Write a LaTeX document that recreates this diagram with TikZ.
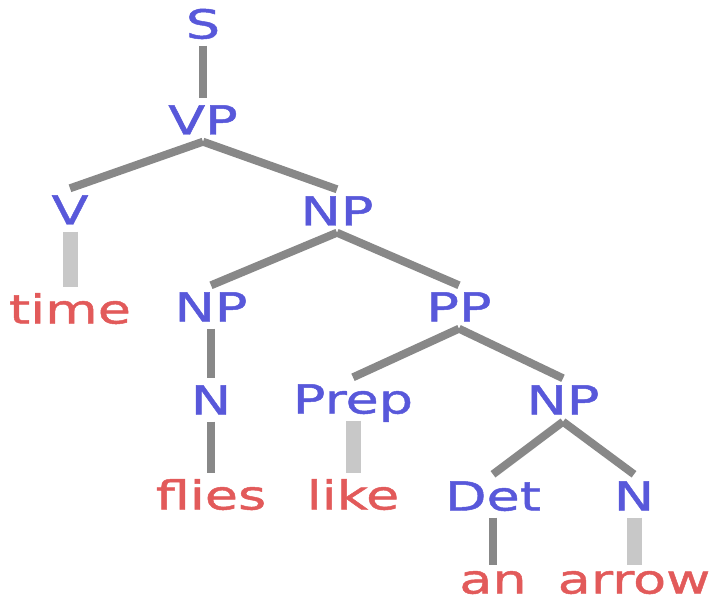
\documentclass[tikz,border=0pt]{standalone}
\usepackage{fontspec}
\newfontfamily\treefont[FakeStretch=1.35,FakeBold=1.2]{DejaVu Sans}
\definecolor{catblue}{RGB}{88,88,218}
\definecolor{wordred}{RGB}{226,90,90}
\definecolor{edgegray}{RGB}{136,136,136}
\definecolor{edgelight}{RGB}{200,200,200}
\tikzset{
  label/.style={font=\treefont\fontsize{40}{48}\selectfont, inner xsep=2pt, inner ysep=7pt,
    text height=29pt, text depth=0pt, anchor=center},
  cat/.style={label, text=catblue},
  word/.style={label, text=wordred},
  edge/.style={draw=edgegray, line width=8pt},
  leafedge/.style={draw=edgelight, line width=15pt}
}
\begin{document}
\begin{tikzpicture}[x=1pt,y=-1pt]
  \useasboundingbox (0,0) rectangle (712,604);
  % categories
  \node[cat] (S)    at (203,24)  {S};
  \node[cat] (VP)   at (203,120) {VP};
  \node[cat] (V)    at (70,210)  {V};
  \node[cat] (NP1)  at (337,211) {NP};
  \node[cat] (NP2)  at (211,307) {NP};
  \node[cat] (PP)   at (459,307) {PP};
  \node[cat] (N1)   at (211,400) {N};
  \node[cat] (Prep) at (353,399) {Prep};
  \node[cat] (NP3)  at (563,400) {NP};
  \node[cat] (Det)  at (493,496) {Det};
  \node[cat] (N2)   at (634,496) {N};
  % words
  \node[word] (w1) at (70,309)  {time};
  \node[word] (w2) at (211,495) {flies};
  \node[word] (w3) at (353,495) {like};
  \node[word, inner ysep=3pt] (w4) at (493,579) {an};
  \node[word, inner ysep=3pt] (w5) at (634,579) {arrow};
  % branches
  \draw[edge] (S.south) -- (VP.north);
  \draw[edge] (VP.south) -- (V.north);
  \draw[edge] (VP.south) -- (NP1.north);
  \draw[edge] (NP1.south) -- (NP2.north);
  \draw[edge] (NP1.south) -- (PP.north);
  \draw[edge] (NP2.south) -- (N1.north);
  \draw[edge] (PP.south) -- (Prep.north);
  \draw[edge] (PP.south) -- (NP3.north);
  \draw[edge] (NP3.south) -- (Det.north);
  \draw[edge] (NP3.south) -- (N2.north);
  % lexical branches
  \draw[leafedge] (V.south) -- (w1.north);
  \draw[edge] (N1.south) -- (w2.north);
  \draw[leafedge] (Prep.south) -- (w3.north);
  \draw[edge] (Det.south) -- ([yshift=-4pt]w4.north);
  \draw[leafedge] (N2.south) -- ([yshift=-4pt]w5.north);
\end{tikzpicture}
\end{document}
